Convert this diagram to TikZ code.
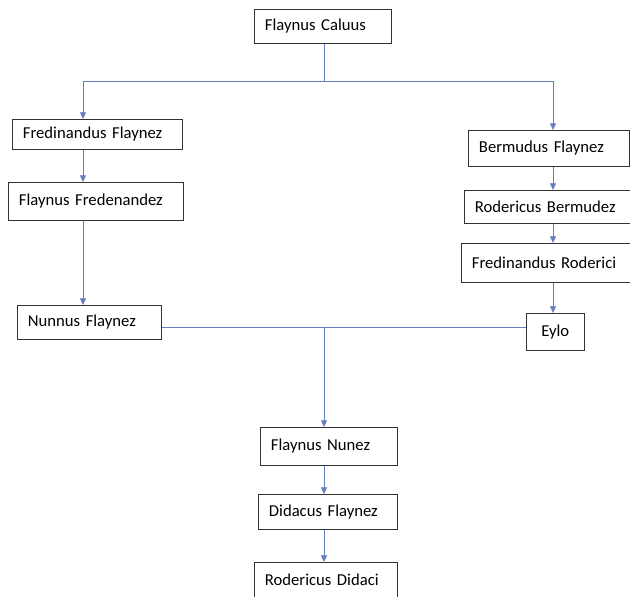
\documentclass[tikz,border=0pt]{standalone}
\usepackage{fontspec}
\setmainfont{Carlito}
\usepackage{tikz}
\usetikzlibrary{arrows.meta,positioning}

\begin{document}
\begin{tikzpicture}[x=0.75pt, y=-0.75pt]
			\tikzstyle{Person}	= [draw=black!80, thin, fill=white, anchor=north west, align=left, inner xsep=8pt, inner ysep=0pt, font=\fontsize{12.5}{15}\selectfont]
			\tikzstyle{Link}	= [draw={rgb,255:red,100;green,126;blue,192}, line width=0.6pt]
			\tikzstyle{Arr}		= [Link, -{Triangle[length=5pt, width=4.5pt]}]

			\useasboundingbox (0,0) rectangle (630,596);

			% top generation
			\node (caluus) at (254,9) [Person, text width=86.75pt, minimum height=25.5pt] {Flaynus Caluus};

			% left branch
			\node (fflaynez) at (12,119) [Person, text width=111.5pt, minimum height=22.5pt] {Fredinandus Flaynez};
			\node (ffredenandez) at (8,182) [Person, text width=115.25pt, minimum height=28.5pt] {Flaynus Fredenandez};
			\node (nunnus) at (17,305) [Person, text width=92pt, minimum height=25.5pt] {Nunnus Flaynez};

			% right branch
			\node (bermudus) at (468,130) [Person, text width=104.75pt, minimum height=27pt] {Bermudus Flaynez};
			\node (rbermudez) at (464,190) [Person, text width=108.5pt, minimum height=24.75pt] {Rodericus Bermudez};
			\node (froderici) at (461,243) [Person, text width=110.75pt, minimum height=29.25pt] {Fredinandus Roderici};
			\node (eylo) at (526,313) [Person, text width=27.5pt, minimum height=27.75pt, align=center] {Eylo};

			% descendants
			\node (fnunez) at (260,427) [Person, text width=86.75pt, minimum height=28.5pt] {Flaynus Nunez};
			\node (didacus) at (258,494) [Person, text width=88.25pt, minimum height=26.25pt] {Didacus Flaynez};
			\node (rdidaci) at (254,562) [Person, text width=91.25pt, minimum height=25.9pt] {Rodericus Didaci};

			\coordinate (split) at (324,81);
			\coordinate (lsplit) at (83,81);
			\coordinate (rsplit) at (553,81);
			\coordinate (join) at (324,327);

			\draw [Link] (caluus.south -| split) -- (split);
			\draw [Link] (lsplit) -- (rsplit);
			\draw [Arr] (lsplit) -- (lsplit |- fflaynez.north);
			\draw [Arr] (rsplit) -- (rsplit |- bermudus.north);

			\draw [Arr] (fflaynez.south -| lsplit) -- (ffredenandez.north -| lsplit);
			\draw [Arr] (ffredenandez.south -| lsplit) -- (nunnus.north -| lsplit);

			\draw [Arr] (bermudus.south -| rsplit) -- (rbermudez.north -| rsplit);
			\draw [Arr] (rbermudez.south -| rsplit) -- (froderici.north -| rsplit);
			\draw [Arr] (froderici.south -| rsplit) -- (eylo.north -| rsplit);

			\draw [Link] (nunnus.east |- join) -- (eylo.west |- join);
			\draw [Arr] (join) -- (fnunez.north -| join);
			\draw [Arr] (fnunez.south -| join) -- (didacus.north -| join);
			\draw [Arr] (didacus.south -| join) -- (rdidaci.north -| join);
		\end{tikzpicture}
\end{document}
